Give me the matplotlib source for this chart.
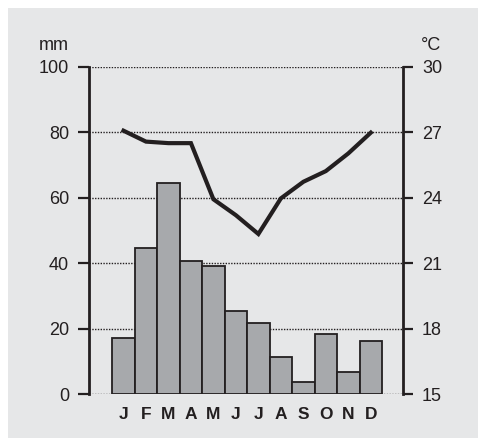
import matplotlib
matplotlib.use("Agg")
import matplotlib.pyplot as plt
from matplotlib.patches import Rectangle
import numpy as np

plt.rcParams['font.family'] = ['Liberation Sans', 'DejaVu Sans']

months = ["J", "F", "M", "A", "M", "J", "J", "A", "S", "O", "N", "D"]
precip_mm = [17.1, 44.6, 64.5, 40.6, 39.1, 25.3, 21.7, 11.3, 3.9, 18.3, 6.7, 16.2]
temp_c = [27.07, 26.57, 26.5, 26.5, 23.93, 23.2, 22.34, 23.97, 24.73, 25.22, 26.03, 26.98]
left_ticks = [0, 20, 40, 60, 80, 100]
right_ticks = [15, 18, 21, 24, 27, 30]

W, H = 478, 438
fig = plt.figure(figsize=(W / 100, H / 100), dpi=100, facecolor="white")
fig.patches.append(Rectangle((8 / W, 0), 1 - 8 / W, 1 - 8 / H, transform=fig.transFigure,
                             facecolor="#e6e7e8", edgecolor="none", zorder=-10))

dark = "#231f20"
x0, x1 = 88.5 / W, 402.5 / W
y0, y1 = (H - 394.3) / H, (H - 66.7) / H
ax = fig.add_axes([x0, y0, x1 - x0, y1 - y0])
ax.set_facecolor("none")
x = np.arange(1, len(months) + 1)

ax.bar(x, precip_mm, width=1.0, color="#a7a9ac", edgecolor=dark, linewidth=1.3, zorder=3)
ax.set_xlim(-0.556, 13.41)
ax.set_ylim(0, 100)
ax.set_yticks(left_ticks)
for v in left_ticks:
    ax.axhline(v, color=dark, linestyle=(0, (1, 1)), linewidth=1.0, zorder=1)

for s in ["top", "bottom"]:
    ax.spines[s].set_visible(False)
ax.spines["left"].set_linewidth(2)
ax.spines["left"].set_color(dark)
ax.spines["right"].set_visible(False)
ax.tick_params(axis="y", direction="out", length=8, width=1.6, color=dark,
               labelsize=13, pad=6, labelcolor=dark)
ax.set_xticks(x)
ax.set_xticklabels(months, fontweight="bold", fontsize=12.5, color=dark)
ax.tick_params(axis="x", length=0, pad=9)

ax2 = ax.twinx()
ax2.set_ylim(15, 30)
ax2.set_yticks(right_ticks)
ax2.plot(x, temp_c, color=dark, linewidth=3.0, solid_joinstyle="miter", zorder=5)
for s in ["top", "bottom", "left"]:
    ax2.spines[s].set_visible(False)
ax2.spines["right"].set_linewidth(2)
ax2.spines["right"].set_color(dark)
ax2.tick_params(axis="y", direction="out", length=7, width=1.6, color=dark,
                labelsize=13, pad=7, labelcolor=dark)

fig.text(69 / W, 1 - 45 / H, "mm", ha="right", va="center", fontsize=13, color=dark)
fig.text(421 / W, 1 - 45 / H, "°C", ha="left", va="center", fontsize=13, color=dark)

fig.savefig("out.png", dpi=100, facecolor="white")
